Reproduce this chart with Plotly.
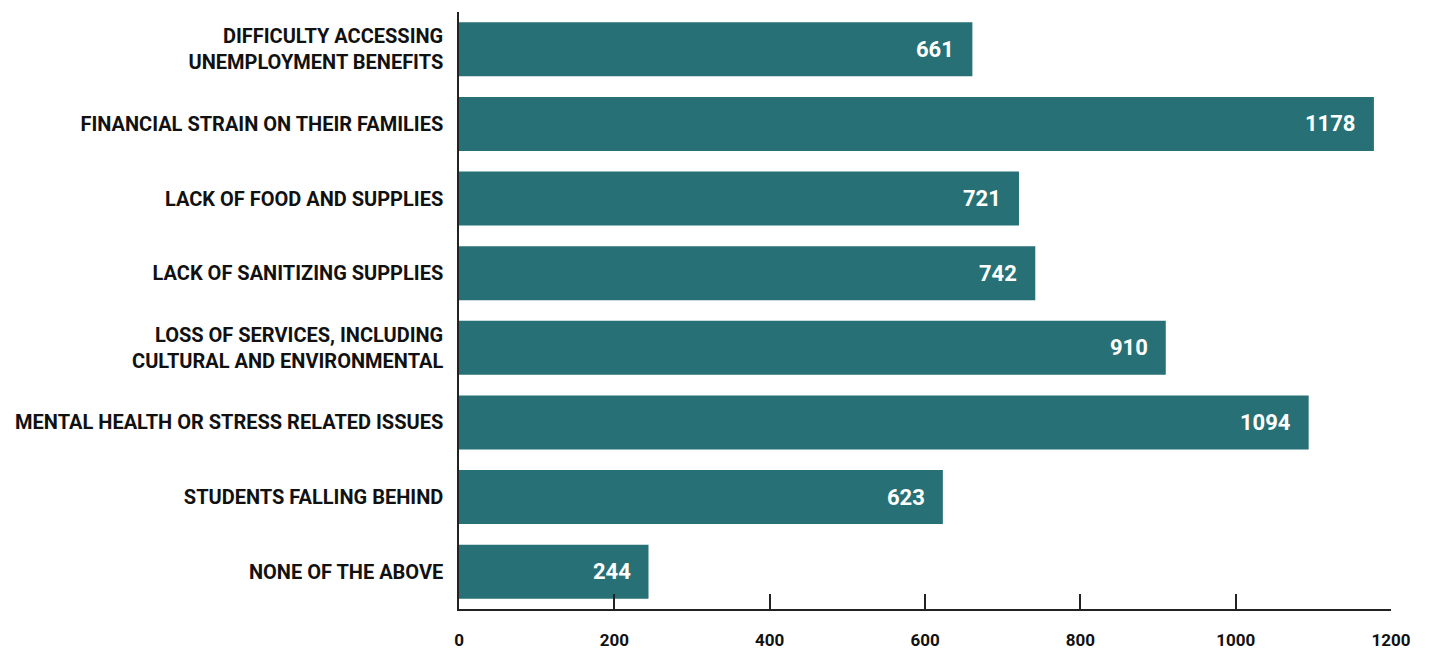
import plotly.graph_objects as go

# Survey responses: community impacts
categories = [
    "DIFFICULTY ACCESSING<br>UNEMPLOYMENT BENEFITS",
    "FINANCIAL STRAIN ON THEIR FAMILIES",
    "LACK OF FOOD AND SUPPLIES",
    "LACK OF SANITIZING SUPPLIES",
    "LOSS OF SERVICES, INCLUDING<br>CULTURAL AND ENVIRONMENTAL",
    "MENTAL HEALTH OR STRESS RELATED ISSUES",
    "STUDENTS FALLING BEHIND",
    "NONE OF THE ABOVE",
]
counts = [661, 1178, 721, 742, 910, 1094, 623, 244]
x_ticks = [0, 200, 400, 600, 800, 1000, 1200]

BAR_COLOR = "#277176"
FONT = "Roboto"

fig = go.Figure(
    go.Bar(
        x=counts,
        y=categories,
        orientation="h",
        marker=dict(color=BAR_COLOR, line=dict(width=0)),
        width=0.725,
        hoverinfo="x+y",
    )
)

# Value labels inside the bar end
for c, v in zip(categories, counts):
    fig.add_annotation(
        x=v, y=c, xref="x", yref="y",
        text=f"<b>{v}</b>", showarrow=False,
        xanchor="right", xshift=-16,
        font=dict(family=FONT, size=22, color="white"),
    )

fig.update_layout(
    width=1432, height=651,
    margin=dict(l=459, r=41, t=12, b=42, autoexpand=False),
    paper_bgcolor="white", plot_bgcolor="white",
    showlegend=False,
    font=dict(family=FONT, color="#111111"),
    xaxis=dict(
        range=[0, 1200],
        automargin=False,
        tickvals=x_ticks,
        ticktext=[f"<b>{t}</b>" for t in x_ticks],
        showgrid=False, zeroline=False,
        showline=True, linecolor="#222222", linewidth=1.5,
        ticks="inside", ticklen=15, tickwidth=1.5, tickcolor="#222222",
        ticklabelstandoff=15,
        tickfont=dict(family=FONT, size=17, color="#111111"),
    ),
    yaxis=dict(
        autorange="reversed",
        automargin=False,
        showgrid=False, zeroline=False,
        showline=True, linecolor="#222222", linewidth=1.5,
        ticks="", ticklabelstandoff=10,
        tickfont=dict(family=FONT, size=20, color="#111111"),
        tickvals=categories,
        ticktext=[f"<b>{c}</b>" for c in categories],
    ),
    bargap=0.275,
)

fig.write_html("out.html")
